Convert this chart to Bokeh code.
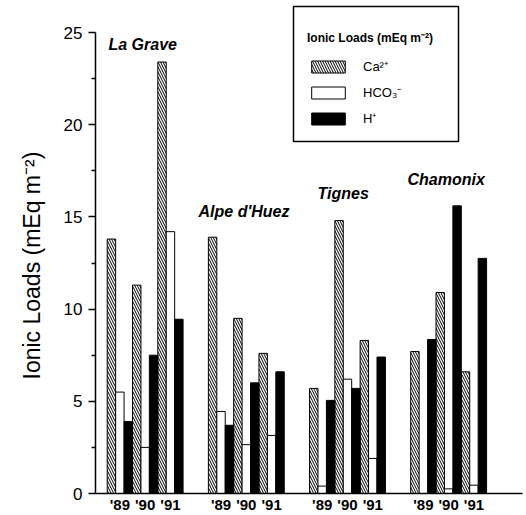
from bokeh.plotting import figure
from bokeh.models import (Range1d, FixedTicker, Legend, LegendItem, Label, Title,
                          BoxAnnotation, ColumnDataSource)
from bokeh.embed import file_html
from bokeh.resources import INLINE

sites = ["La Grave", "Alpe d'Huez", "Tignes", "Chamonix"]
years = ["'89", "'90", "'91"]
# values per site, per year (mEq m-2)
ca = [13.8, 11.3, 23.4, 13.9, 9.5, 7.6, 5.7, 14.8, 8.3, 7.7, 10.9, 6.6]
hco3 = [5.5, 2.5, 14.2, 4.45, 2.65, 3.15, 0.4, 6.2, 1.9, 0.0, 0.25, 0.45]
h_ion = [3.9, 7.5, 9.45, 3.7, 6.0, 6.6, 5.05, 5.7, 7.4, 8.35, 15.6, 12.75]
y_ticks = [0, 5, 10, 15, 20, 25]

SITE_SLOTS = 12
YEAR_SLOTS = 3

xc = []
for i in range(len(sites)):
    for j in range(len(years)):
        xc.append(SITE_SLOTS * i + YEAR_SLOTS * j)

src = ColumnDataSource(dict(
    x_ca=[v + 0.5 for v in xc],
    x_hc=[v + 1.5 for v in xc],
    x_h=[v + 2.5 for v in xc],
    ca=ca, hco3=hco3, h=h_ion,
))

p = figure(width=526, height=515, output_backend="svg", toolbar_location=None,
           x_range=Range1d(-1.39, 49.26), y_range=Range1d(0, 26.52),
           min_border_left=95, min_border_right=4, min_border_top=4, min_border_bottom=21)
p.outline_line_color = None
p.grid.visible = False
p.background_fill_color = "white"
p.border_fill_color = "white"

r_ca = p.vbar(x="x_ca", top="ca", bottom=0, width=1, source=src,
              fill_color="white", line_color="black", line_width=1,
              hatch_pattern="\\", hatch_color="black", hatch_scale=5, hatch_weight=1)
r_hc = p.vbar(x="x_hc", top="hco3", bottom=0, width=1, source=src,
              fill_color="white", line_color="black", line_width=1)
r_h = p.vbar(x="x_h", top="h", bottom=0, width=1, source=src,
             fill_color="black", line_color="black", line_width=1)

FONT = "Liberation Sans"
yax = p.yaxis[0]
yax.bounds = (0, 25)
yax.ticker = FixedTicker(ticks=y_ticks, minor_ticks=[t + 2.5 for t in y_ticks[:-1]])
yax.major_label_text_font = FONT
yax.major_label_text_font_size = "17px"
yax.major_label_text_color = "black"
yax.major_label_standoff = 6
yax.major_tick_out = 7
yax.major_tick_in = 0
yax.minor_tick_out = 4
yax.minor_tick_in = 0
yax.axis_line_width = 1.5
yax.axis_line_color = "black"
yax.major_tick_line_width = 1.5
yax.minor_tick_line_width = 1.5

ylab = Title(text="Ionic Loads (mEq m\u207b\u00b2)", align="left", offset=114,
             text_font=FONT, text_font_size="23px", text_font_style="normal",
             text_color="black", standoff=32)
p.add_layout(ylab, "left")

xax = p.xaxis[0]
tick_pos = [v + 1.5 for v in xc]
xax.ticker = FixedTicker(ticks=tick_pos, minor_ticks=[])
xax.major_label_overrides = {tp: years[k % len(years)] for k, tp in enumerate(tick_pos)}
xax.major_label_text_font = FONT
xax.major_label_text_font_size = "15px"
xax.major_label_text_font_style = "bold"
xax.major_label_text_color = "black"
xax.major_label_standoff = 2
xax.major_tick_out = 0
xax.major_tick_in = 0
xax.minor_tick_out = 0
xax.axis_line_width = 1.5
xax.axis_line_color = "black"

site_pos = [(0.15, 24.35), (10.83, 15.3), (24.95, 16.27), (35.62, 17.03)]
for name, (lx, ly) in zip(sites, site_pos):
    p.add_layout(Label(x=lx, y=ly, text=name, text_font=FONT, text_font_size="16px",
                       text_font_style="bold italic", text_baseline="middle",
                       text_align="left", text_color="black"))

# legend frame (drawn separately so that its spacing can match the original)
box = BoxAnnotation(left=293, right=458, top=6, bottom=141,
                    left_units="canvas", right_units="canvas",
                    top_units="canvas", bottom_units="canvas",
                    fill_color="white", fill_alpha=1,
                    line_color="black", line_width=1.5, line_alpha=1)
p.add_layout(box)

legend = Legend(items=[
    LegendItem(label="Ca\u00b2\u207a", renderers=[r_ca]),
    LegendItem(label="HCO\u2083\u207b", renderers=[r_hc]),
    LegendItem(label="H\u207a", renderers=[r_h]),
], location=(212, 366), title="Ionic Loads (mEq m\u207b\u00b2)")
legend.title_text_font = FONT
legend.title_text_font_size = "12px"
legend.title_text_font_style = "bold"
legend.title_text_color = "black"
legend.title_standoff = 11
legend.label_text_font = FONT
legend.label_text_font_size = "13px"
legend.label_text_color = "black"
legend.glyph_width = 42
legend.glyph_height = 15
legend.label_height = 15
legend.label_standoff = 14
legend.spacing = 8
legend.padding = 10
legend.margin = 0
legend.border_line_color = None
legend.background_fill_alpha = 0
p.add_layout(legend, "center")

open("out.html", "w").write(file_html(p, INLINE))
